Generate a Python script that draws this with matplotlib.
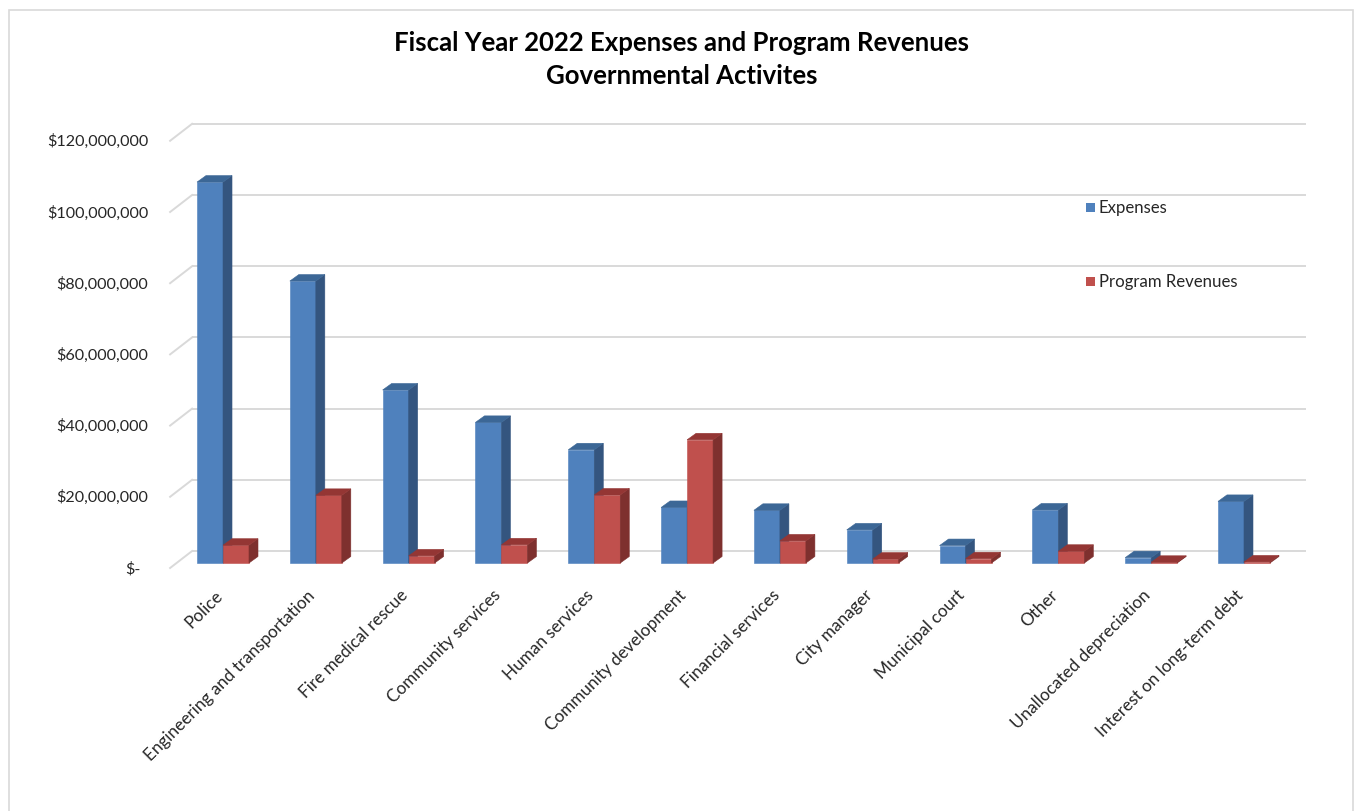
import matplotlib
matplotlib.use("Agg")
import matplotlib.pyplot as plt
from matplotlib.patches import Polygon, Rectangle
from matplotlib.transforms import ScaledTranslation, IdentityTransform

# ---------------- data ----------------
categories = ["Police", "Engineering and transportation", "Fire medical rescue",
              "Community services", "Human services", "Community development",
              "Financial services", "City manager", "Municipal court", "Other",
              "Unallocated depreciation", "Interest on long-term debt"]
expenses = [107.0e6, 79.2e6, 48.6e6, 39.5e6, 31.8e6, 15.6e6,
            14.8e6, 9.3e6, 4.9e6, 14.9e6, 1.5e6, 17.3e6]
revenues = [5.0e6, 19.0e6, 2.0e6, 5.1e6, 19.1e6, 34.6e6,
            6.2e6, 1.1e6, 1.2e6, 3.3e6, 0.2e6, 0.3e6]
series_names = ["Expenses", "Program Revenues"]
yticks = [0, 20e6, 40e6, 60e6, 80e6, 100e6, 120e6]
ytick_labels = ["$-", "$20,000,000", "$40,000,000", "$60,000,000",
                "$80,000,000", "$100,000,000", "$120,000,000"]
title_lines = ["Fiscal Year 2022 Expenses and Program Revenues",
               "Governmental Activites"]

# ---------------- style ----------------
plt.rcParams['font.family'] = ['Lato', 'DejaVu Sans']
W, H, DPI = 1354, 812, 100
FRONT = ["#4F81BD", "#C0504D"]
SIDE = ["#34557F", "#7E302E"]
TOP = ["#3C6796", "#943634"]
GRID = "#D9D9D9"
TEXT = "#262626"
FS = 11.6
FS_X = 12.3
FS_LEG = 12.1

fig = plt.figure(figsize=(W / DPI, H / DPI), dpi=DPI)


def px(dx, dy):
    return ScaledTranslation(dx / DPI, dy / DPI, fig.dpi_scale_trans)


ax_left, ax_right, ax_bottom, ax_top = 176.6, 1290.4, 564.0, 136.8
ax = fig.add_axes([ax_left / W, (H - ax_bottom) / H,
                   (ax_right - ax_left) / W, (ax_bottom - ax_top) / H])
n = len(categories)
ax.set_xlim(-0.5, n - 0.5)
ax.set_ylim(0, 120e6)
ax.axis('off')

# 3D wall geometry (pixels, relative to bar plane)
FRONT_OFF = (-6.5, -5.0)
BACK_OFF = (15.5, 12.0)

# gridlines on back wall + diagonal on side wall
for v in yticks:
    ax.plot([-0.5, n - 0.5], [v, v], color=GRID, lw=1.4, zorder=0, clip_on=False,
            transform=ax.transData + px(*BACK_OFF), solid_capstyle='butt')
    p = ax.transData.transform((-0.5, v))
    ax.plot([p[0] + FRONT_OFF[0], p[0] + BACK_OFF[0]],
            [p[1] + FRONT_OFF[1], p[1] + BACK_OFF[1]], clip_on=False,
            color=GRID, lw=1.4, zorder=0, transform=IdentityTransform())

# y tick labels (front plane)
for v, lab in zip(yticks, ytick_labels):
    extra = -7 if v == 0 else 0
    ax.text(-0.5, v, lab, ha='right', va='center', fontsize=FS, color=TEXT,
            transform=ax.transData + px(148 - ax_left + extra, FRONT_OFF[1]))

# bars
bw = 0.28
DX, DY = 9.0, 6.5
for s, vals in enumerate([expenses, revenues]):
    xs = [i - bw + s * bw for i in range(n)]
    z = 2 + s
    ax.bar(xs, vals, width=bw, align='edge', color=FRONT[s],
           edgecolor=FRONT[s], lw=0.4, zorder=z, clip_on=False)
    for x0, v in zip(xs, vals):
        x1 = x0 + bw
        (ax0, ay0) = ax.transData.transform((x0, 0))
        (ax1, ay1) = ax.transData.transform((x1, v))
        side = Polygon([(ax1, ay0), (ax1, ay1), (ax1 + DX, ay1 + DY), (ax1 + DX, ay0 + DY)],
                       closed=True, facecolor=SIDE[s], edgecolor=SIDE[s], lw=0.4,
                       transform=IdentityTransform(), zorder=z, clip_on=False)
        top = Polygon([(ax0, ay1), (ax1, ay1), (ax1 + DX, ay1 + DY), (ax0 + DX, ay1 + DY)],
                      closed=True, facecolor=TOP[s], edgecolor=TOP[s], lw=0.4,
                      transform=IdentityTransform(), zorder=z, clip_on=False)
        ax.add_patch(side)
        ax.add_patch(top)

# x labels
for i, cat in enumerate(categories):
    ax.text(i, 0, cat, rotation=45, rotation_mode='anchor', ha='right', va='center',
            fontsize=FS_X, color=TEXT, transform=ax.transData + px(-3, -29))

# legend (manual)
leg_y = [208.0, 282.5]
for s, name in enumerate(series_names):
    fig.add_artist(Rectangle((1086 / W, 1 - (leg_y[s] + 4.5) / H), 8.6 / W, 9 / H,
                             transform=fig.transFigure, facecolor=FRONT[s],
                             edgecolor='none'))
    fig.text(1099 / W, 1 - leg_y[s] / H, name, ha='left', va='center',
             fontsize=FS_LEG, color=TEXT)

# title
fig.text(682 / W, 1 - 43 / H, title_lines[0], ha='center', va='center',
         fontsize=18.5, fontweight='bold', color='black')
fig.text(682 / W, 1 - 76 / H, title_lines[1], ha='center', va='center',
         fontsize=18.5, fontweight='bold', color='black')

# outer border
fig.add_artist(Rectangle((9 / W, -0.02), (1353 - 9) / W, (812 - 11) / H + 0.02,
                         transform=fig.transFigure, fill=False, edgecolor=GRID, lw=1.2))

fig.savefig("out.png", dpi=DPI)
